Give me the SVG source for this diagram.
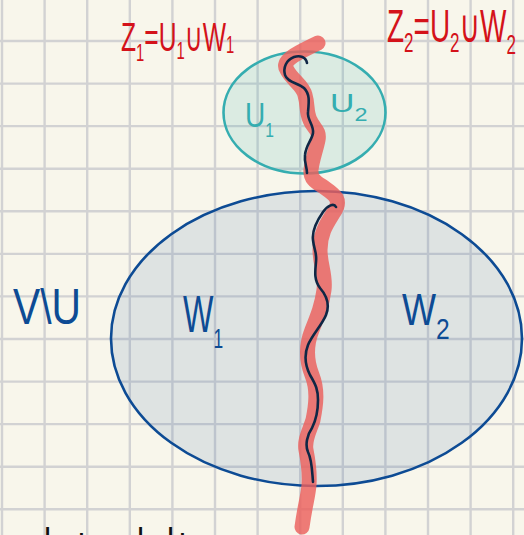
<svg xmlns="http://www.w3.org/2000/svg" width="524" height="535" viewBox="0 0 524 535">
<style>
.grid{stroke:#d2d2d3;stroke-width:2.4;fill:none}
.lbl{font-family:"Liberation Sans","DejaVu Sans",sans-serif}
.red{fill:#d4121a}
.blue{fill:#0d4b94}
.teal{fill:#35adb0}
.ink{fill:#111}
.band{fill:none;stroke:#ec5f5b;stroke-opacity:0.82;stroke-width:15;stroke-linecap:round;stroke-linejoin:round}
.cut{fill:none;stroke:#0f2745;stroke-width:2.6;stroke-linecap:round;stroke-linejoin:round}
</style>
<rect width="524" height="535" fill="#f8f6eb"/>
<path class="grid" d="M2,0V535M44.6,0V535M87.2,0V535M129.8,0V535M172.4,0V535M215,0V535M257.6,0V535M300.2,0V535M342.8,0V535M385.4,0V535M428,0V535M470.6,0V535M513.2,0V535M0,41H524M0,83.6H524M0,126.1H524M0,168.7H524M0,211.3H524M0,253.9H524M0,296.4H524M0,339H524M0,381.6H524M0,424.1H524M0,466.7H524M0,509.3H524"/>
<g id="V_minus_U">
<ellipse cx="316.5" cy="338.5" rx="205.5" ry="147.5" fill="#4a78b0" fill-opacity="0.15" stroke="#0d4b94" stroke-width="2.6"/>
</g>
<g id="U">
<ellipse cx="304.5" cy="112.5" rx="81" ry="61" fill="#38b0b0" fill-opacity="0.15" stroke="#35adb0" stroke-width="2.6"/>
</g>
<g id="connectors">
<path class="band" d="M318,43 C300,52 280,60 287,70 C292,80 303,85 305,95 C308,105 306,112 310,120 C313,128 320,130 318,140 C316,150 312,160 311,170 C310,180 318,183 325,188 C335,195 342,200 334,212 C328,222 320,232 320,250 C320,265 326,275 324,290 C322,305 318,315 312,330 C306,345 306,360 312,375 C318,390 316,405 313,420 C310,430 304,440 306,450 C308,460 310,470 309,485 C308,497 305,505 302,527"/>
<path class="cut" d="M307,63 C306,57 300,55 294,57 C286,60 283,68 285,75 C287,82 298,83 304,88 C310,94 309,102 308,112 C307,120 314,125 313,133 C312,140 306,145 305,155 C304,162 307,167 307,173"/>
<path class="cut" d="M336,207 C334,203 328,205 323,212 C316,222 312,232 313,240 C314,250 317,252 316,262 C315,272 314,280 320,288 C327,296 330,305 326,315 C322,325 312,335 308,345 C304,355 305,365 310,375 C316,385 318,390 318,400 C318,410 316,420 312,428 C307,435 305,445 308,452 C312,460 312,470 313,482"/>
</g>
<g id="labels">
<text class="lbl red" transform="translate(121,51) scale(0.616,1)" font-size="40">Z<tspan font-size="24" dy="10">1</tspan><tspan dy="-10">=U</tspan><tspan font-size="24" dy="8">1</tspan><tspan dy="-8">∪W</tspan><tspan font-size="24" dy="2">1</tspan></text>
<text class="lbl red" transform="translate(387,42) scale(0.608,1)" font-size="46">Z<tspan font-size="28" dy="10">2</tspan><tspan dy="-10">=U</tspan><tspan font-size="28" dy="10">2</tspan><tspan dy="-10">∪W</tspan><tspan font-size="28" dy="12">2</tspan></text>
<text class="lbl blue" transform="translate(13,324) scale(0.815,1)" font-size="50">V\U</text>
<text class="lbl blue" transform="translate(183,332) scale(0.62,1)" font-size="52">W<tspan font-size="28" dy="16">1</tspan></text>
<text class="lbl blue" transform="translate(402,325) scale(0.82,1)" font-size="44">W<tspan font-size="30" dy="14">2</tspan></text>
<text class="lbl teal" transform="translate(245,127) scale(0.78,1)" font-size="36">U<tspan font-size="20" dy="10">1</tspan></text>
<text class="lbl teal" transform="translate(330,112) scale(1.3,1)" font-size="26">U<tspan font-size="18" dy="9">2</tspan></text>
<text class="lbl ink" x="44" y="550" font-size="32">l<tspan x="77">ı</tspan><tspan x="137">l</tspan><tspan x="167">l</tspan><tspan x="178">ı</tspan></text>
</g>
</svg>
